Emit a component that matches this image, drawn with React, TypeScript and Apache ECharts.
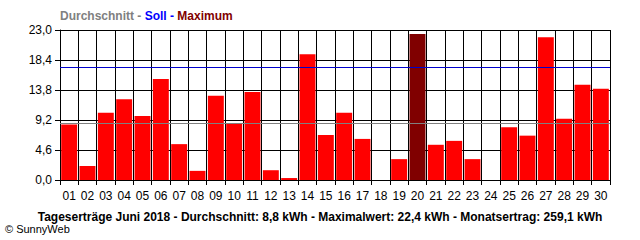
import React, { useEffect, useRef } from "react";
import * as echarts from "echarts";

const days = ["01","02","03","04","05","06","07","08","09","10","11","12","13","14","15","16","17","18","19","20","21","22","23","24","25","26","27","28","29","30"];
const yields = [8.5,2.15,10.3,12.4,9.8,15.5,5.5,1.4,12.9,8.7,13.5,1.5,0.3,19.3,6.9,10.3,6.3,0,3.2,22.4,5.4,6.0,3.2,0,8.1,6.8,21.9,9.4,14.6,14.0];
const average = 8.64;
const target = 17.3;
const yTicks = { min: 0, max: 23, interval: 4.6 };
const titleParts = ["Durchschnitt - ", "Soll - ", "Maximum"];
const footer = "Tageserträge Juni 2018 - Durchschnitt: 8,8 kWh - Maximalwert: 22,4 kWh - Monatsertrag: 259,1 kWh";
const copyright = "© SunnyWeb";

const FONT = "Liberation Sans";

export default function App() {
  const ref = useRef<HTMLDivElement>(null);
  useEffect(() => {
    if (!ref.current) return;
    const chart = echarts.init(ref.current, null, { renderer: "svg" });
    const maxVal = Math.max(...yields);
    const data = yields.map((v) => ({
      value: v,
      itemStyle: { color: v === maxVal ? "#800000" : "#FF0000" },
    }));
    chart.setOption({
      animation: false,
      backgroundColor: "#ffffff",
      grid: { left: 60, right: 30, top: 30, bottom: 60 },
      xAxis: {
        type: "category",
        data: days,
        boundaryGap: true,
        axisLine: { show: true, lineStyle: { color: "#000", width: 1 } },
        axisTick: { show: true, length: 5, lineStyle: { color: "#000" } },
        splitLine: { show: true, lineStyle: { color: "#000", width: 1 } },
        axisLabel: { color: "#000", fontSize: 12, fontFamily: FONT, margin: 10 },
      },
      yAxis: {
        type: "value",
        min: yTicks.min,
        max: yTicks.max,
        interval: yTicks.interval,
        axisLine: { show: true, lineStyle: { color: "#000", width: 1 } },
        axisTick: { show: true, length: 5, lineStyle: { color: "#000" } },
        splitLine: { show: true, lineStyle: { color: "#000", width: 1 } },
        axisLabel: {
          color: "#000",
          fontSize: 12,
          fontFamily: FONT,
          margin: 8,
          formatter: (v: number) => v.toFixed(1).replace(".", ","),
        },
      },
      series: [
        {
          type: "bar",
          data,
          barCategoryGap: "13%",
          markLine: {
            silent: true,
            symbol: "none",
            label: { show: false },
            z: 10,
            data: [
              { yAxis: average, lineStyle: { color: "#808080", width: 1, type: "solid" } },
              { yAxis: target, lineStyle: { color: "#0000CC", width: 1, type: "solid" } },
            ],
          },
        },
      ],
      graphic: [
        {
          type: "text",
          left: 60,
          top: 10,
          style: {
            text: `{a|${titleParts[0]}}{b|${titleParts[1]}}{c|${titleParts[2]}}`,
            rich: {
              a: { fill: "#808080", fontWeight: "bold", fontSize: 12, fontFamily: FONT },
              b: { fill: "#0000FF", fontWeight: "bold", fontSize: 12, fontFamily: FONT },
              c: { fill: "#800000", fontWeight: "bold", fontSize: 12, fontFamily: FONT },
            },
          },
        },
        {
          type: "text",
          x: 320,
          y: 217,
          style: {
            text: footer,
            fill: "#000",
            fontWeight: "bold",
            fontSize: 12,
            fontFamily: FONT,
            align: "center",
            verticalAlign: "middle",
          },
        },
        {
          type: "text",
          x: 5,
          y: 229,
          style: {
            text: copyright,
            fill: "#000",
            fontSize: 11,
            fontFamily: FONT,
            align: "left",
            verticalAlign: "middle",
          },
        },
      ],
    });
    return () => chart.dispose();
  }, []);
  return <div ref={ref} style={{ width: 640, height: 240, position: "absolute", left: 0, top: 0 }} />;
}
